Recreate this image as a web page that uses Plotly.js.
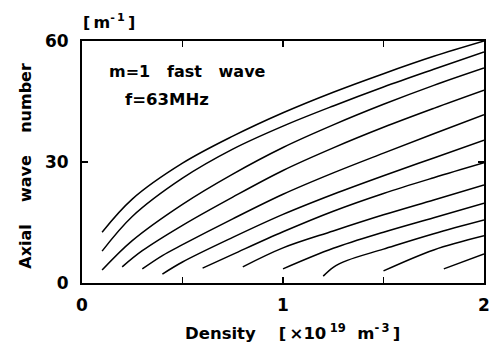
<!DOCTYPE html>
<html>
<head>
<meta charset="utf-8">
<script src="https://cdn.plot.ly/plotly-3.0.1.min.js"></script>
<style>html,body{margin:0;padding:0;background:#fff;}</style>
</head>
<body>
<div id="chart" style="width:490px;height:342px;"></div>
<script>
// Density [x10^19 m^-3] and axial wave number [m^-1] for each branch
const density1 = [0.1, 0.25, 0.5, 0.75, 1.0, 1.25, 1.5, 1.75, 2.0];
const wave1    = [12.6, 20.8, 29.7, 36.4, 42.2, 47.3, 51.9, 56.2, 60.0];
const density2 = [0.1, 0.25, 0.5, 0.75, 1.0, 1.25, 1.5, 1.75, 2.0];
const wave2    = [7.9, 16.5, 26.0, 33.2, 38.9, 43.9, 48.6, 53.0, 57.3];
const density3 = [0.1, 0.25, 0.5, 0.75, 1.0, 1.25, 1.5, 1.75, 2.0];
const wave3    = [3.2, 10.5, 19.5, 27.0, 33.6, 39.2, 44.3, 49.0, 53.3];
const density4 = [0.2, 0.3, 0.5, 0.75, 1.0, 1.25, 1.5, 1.75, 2.0];
const wave4    = [4.0, 8.0, 14.3, 21.3, 27.9, 33.5, 38.6, 43.3, 47.8];
const density5 = [0.3, 0.4, 0.5, 0.75, 1.0, 1.25, 1.5, 1.75, 2.0];
const wave5    = [3.5, 6.8, 9.5, 15.9, 22.0, 27.3, 32.2, 37.0, 41.7];
const density6 = [0.4, 0.5, 0.75, 1.0, 1.25, 1.5, 1.75, 2.0];
const wave6    = [2.2, 5.2, 11.3, 17.0, 22.0, 26.6, 31.0, 35.4];
const density7 = [0.6, 0.75, 1.0, 1.25, 1.5, 1.75, 2.0];
const wave7    = [3.7, 7.1, 12.7, 17.8, 22.2, 26.1, 29.8];
const density8 = [0.8, 1.0, 1.25, 1.5, 1.75, 2.0];
const wave8    = [4.0, 8.7, 12.9, 16.9, 20.6, 24.3];
const density9 = [1.0, 1.25, 1.5, 1.75, 2.0];
const wave9    = [3.5, 8.6, 12.6, 16.2, 19.8];
const density10 = [1.2, 1.25, 1.32, 1.5, 1.75, 2.0];
const wave10    = [1.7, 3.9, 5.6, 8.4, 12.2, 15.6];
const density11 = [1.5, 1.75, 2.0];
const wave11    = [3.0, 8.2, 11.7];
const density12 = [1.8, 2.0];
const wave12    = [3.5, 7.2];

const xTickVals = [0, 0.5, 1, 1.5, 2];
const xTickText = ['0', '', '1', '', '2'];
const yTickVals = [0, 30, 60];
const yTickText = ['0', '30', '60'];

const branches = [
  [density1, wave1], [density2, wave2], [density3, wave3], [density4, wave4],
  [density5, wave5], [density6, wave6], [density7, wave7], [density8, wave8],
  [density9, wave9], [density10, wave10], [density11, wave11], [density12, wave12]
];

const traces = branches.map(([x, y]) => ({
  x: x, y: y, type: 'scatter', mode: 'lines',
  line: {color: '#000', width: 1.5, shape: 'spline', smoothing: 1},
  showlegend: false, hoverinfo: 'skip'
}));

const FONT = 'DejaVu Sans, Verdana, sans-serif';
const NB = '\u00A0';
const TH = '\u2009';

const layout = {
  width: 490, height: 342,
  margin: {l: 82, r: 6, t: 41, b: 59},
  paper_bgcolor: '#fff', plot_bgcolor: '#fff',
  font: {family: FONT, color: '#000', size: 16, weight: 'bold'},
  xaxis: {
    range: [0, 2], tickvals: xTickVals, ticktext: xTickText,
    ticks: 'inside', ticklen: 6, tickwidth: 1.5, tickcolor: '#000',
    showline: true, linewidth: 2, linecolor: '#000', mirror: 'ticks',
    showgrid: false, zeroline: false, ticklabelstandoff: 6,
    ticklabeloverflow: 'allow',
    tickfont: {family: FONT, size: 17, weight: 'bold', color: '#000'}
  },
  yaxis: {
    range: [0, 60], tickvals: yTickVals, ticktext: yTickText,
    ticks: 'inside', ticklen: 6, tickwidth: 1.5, tickcolor: '#000',
    showline: true, linewidth: 2, linecolor: '#000', mirror: 'ticks',
    showgrid: false, zeroline: false, ticklabelstandoff: 8,
    ticklabeloverflow: 'allow',
    tickfont: {family: FONT, size: 17, weight: 'bold', color: '#000'}
  },
  annotations: [
    {text: 'm=1' + NB + NB + NB + 'fast' + NB + NB + NB + 'wave', xref: 'paper', yref: 'paper',
     x: 0.062, y: 0.872, xanchor: 'left', yanchor: 'middle', showarrow: false,
     font: {family: FONT, size: 16, weight: 'bold', color: '#000'}},
    {text: 'f=63MHz', xref: 'paper', yref: 'paper',
     x: 0.102, y: 0.760, xanchor: 'left', yanchor: 'middle', showarrow: false,
     font: {family: FONT, size: 16.5, weight: 'bold', color: '#000'}},
    {text: '[' + TH + 'm<sup>-' + TH + '1</sup>' + TH + ']', xref: 'paper', yref: 'paper',
     x: -0.002, y: 1.03, xanchor: 'left', yanchor: 'bottom', showarrow: false,
     font: {family: FONT, size: 16, weight: 'bold', color: '#000'}},
    {text: 'Axial' + NB + NB + NB + NB + 'wave' + NB + NB + NB + NB + 'number', xref: 'paper', yref: 'paper',
     x: -0.141, y: 0.486, xanchor: 'center', yanchor: 'middle', textangle: -90, showarrow: false,
     font: {family: FONT, size: 16, weight: 'bold', color: '#000'}},
    {text: 'Density' + NB + NB + NB + NB + '[' + TH + '×10' + TH + '<sup>19</sup>' + NB + NB + 'm<sup>-' + TH + '3</sup>' + TH + ']', xref: 'paper', yref: 'paper',
     x: 0.524, y: -0.202, xanchor: 'center', yanchor: 'middle', showarrow: false,
     font: {family: FONT, size: 16.5, weight: 'bold', color: '#000'}}
  ]
};

Plotly.newPlot('chart', traces, layout, {staticPlot: true, displayModeBar: false});
</script>
</body>
</html>
